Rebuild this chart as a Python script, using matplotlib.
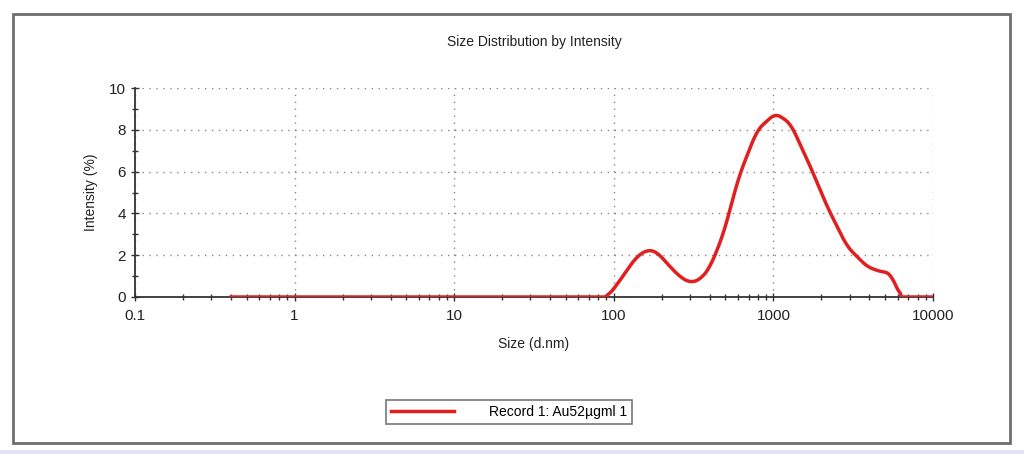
import numpy as np
import matplotlib.pyplot as plt
from matplotlib.patches import Rectangle
from matplotlib.ticker import LogLocator, FixedLocator, MultipleLocator

# size (d.nm) and intensity (%)
size = [0.4, 1, 10, 50, 90.6, 105, 121, 140, 165, 190, 215, 261, 302, 350, 403, 488,
        607, 791, 1031, 1279, 1707, 2173, 2898, 3864, 4690, 5417, 6252, 8000, 10000]
intensity = [0, 0, 0, 0, 0, 0.6, 1.29, 1.95, 2.28, 2.1, 1.61, 0.95, 0.68, 0.85, 1.45, 3.05,
             5.76, 7.99, 8.79, 8.31, 6.23, 4.32, 2.41, 1.45, 1.21, 1.16, 0, 0, 0]
x_ticks = [0.1, 1, 10, 100, 1000, 10000]
x_labels = ['0.1', '1', '10', '100', '1000', '10000']
y_ticks = [0, 2, 4, 6, 8, 10]

# smooth the read points in log space
lx = np.log10(size)
fine = np.linspace(lx[0], lx[-1], 800)
iy = np.interp(fine, lx, intensity)
k = np.ones(13) / 13
sm = np.convolve(np.pad(iy, 6, mode='edge'), k, mode='valid')
sm[fine < np.log10(90)] = 0
sm[fine > np.log10(6300)] = 0
sm = np.maximum(sm, 0)

plt.rcParams['font.family'] = ['Liberation Sans', 'DejaVu Sans']

fig = plt.figure(figsize=(10.24, 4.54), dpi=100)
fig.patches.append(Rectangle((13 / 1024, 1 - 443 / 454), (1010 - 13) / 1024, (443 - 14) / 454,
                             transform=fig.transFigure, fill=False, edgecolor='#6e6e6e', lw=2))
fig.patches.append(Rectangle((0, 0), 1, 4 / 454, transform=fig.transFigure,
                             facecolor='#e4e2f6', edgecolor='none'))

ax = fig.add_axes([135 / 1024, 1 - 297 / 454, 798 / 1024, 209 / 454])
ax.plot(10 ** fine, sm, color='#e02020', lw=2.5, label='Record 1: Au52µgml 1', zorder=3)

ax.set_xscale('log')
ax.set_xlim(0.1, 10000)
ax.set_ylim(0, 10)
ax.xaxis.set_major_locator(FixedLocator(x_ticks))
ax.set_xticklabels(x_labels)
ax.xaxis.set_minor_locator(LogLocator(base=10, subs=np.arange(2, 10), numticks=20))
ax.set_yticks(y_ticks)
ax.yaxis.set_minor_locator(MultipleLocator(1))
ax.tick_params(which='both', direction='inout', color='#333333', labelsize=11, labelcolor='#222222')
ax.tick_params(which='major', length=6, width=1)
ax.tick_params(which='minor', length=5, width=1)
ax.tick_params(axis='x', which='major', pad=6)
ax.grid(True, which='major', linestyle=(0, (1, 4)), color='#888888', lw=1)
for s in ['top', 'right']:
    ax.spines[s].set_visible(False)
for s in ['left', 'bottom']:
    ax.spines[s].set_color('#333333')
    ax.spines[s].set_linewidth(1.3)

ax.set_title('Size Distribution by Intensity', fontsize=10, color='#222222', pad=30)
ax.set_xlabel('Size (d.nm)', fontsize=10, color='#222222', labelpad=10)
ax.set_ylabel('Intensity (%)', fontsize=10, color='#222222', labelpad=8)

leg = fig.legend(loc='center', bbox_to_anchor=(509 / 1024, 1 - 412 / 454), fontsize=10,
                 frameon=True, fancybox=False, edgecolor='#555555', handlelength=4.5,
                 handletextpad=2.5, borderpad=0.35)
leg.get_frame().set_linewidth(1.2)

fig.savefig('out.png', dpi=100)
